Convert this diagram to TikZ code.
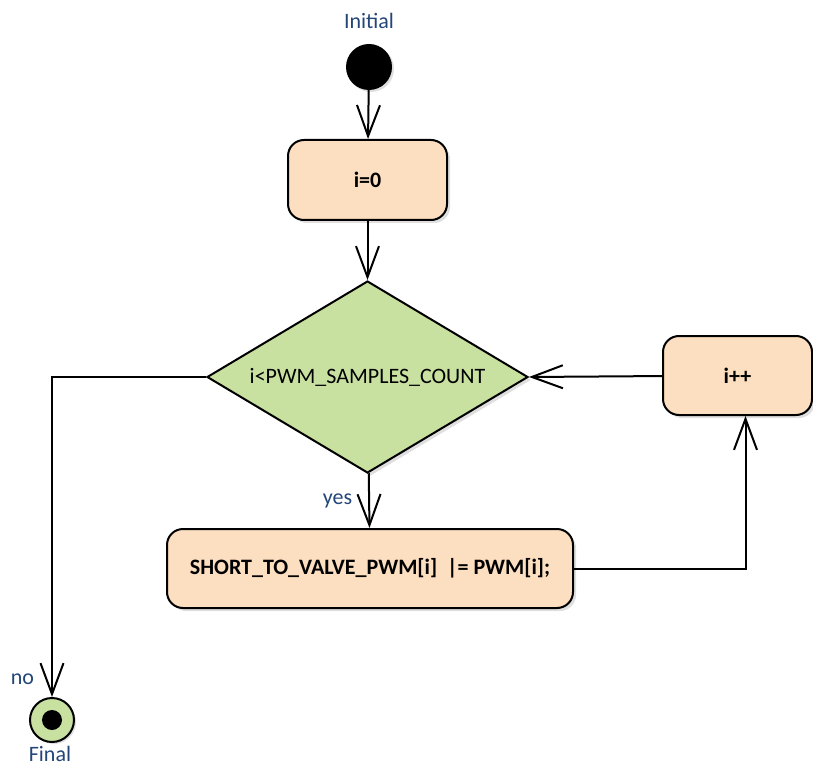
\documentclass[tikz,border=0pt]{standalone}
\usepackage{fontspec}
\setmainfont{Carlito}
\usetikzlibrary{shapes.geometric,arrows.meta,shadows}

\definecolor{actfill}{RGB}{252,222,192}
\definecolor{decfill}{RGB}{200,224,160}
\definecolor{lblblue}{RGB}{35,70,120}

\begin{document}
\begin{tikzpicture}[x=1pt,y=-1pt,
font=\fontsize{22}{26}\selectfont,
every node/.style={inner sep=2pt},
flow/.style={line width=2pt,-{Straight Barb[length=31pt,width=23pt,line width=2pt]}},
act/.style={draw,line width=2pt,fill=actfill,rounded corners=16pt,font=\fontsize{22}{26}\selectfont\bfseries,
  drop shadow={shadow xshift=3pt,shadow yshift=-3pt,opacity=.25}},
dec/.style={draw,line width=2pt,fill=decfill,diamond,aspect=1.67,minimum width=321pt,minimum height=192pt,inner sep=0pt,
  drop shadow={shadow xshift=3pt,shadow yshift=-3pt,opacity=.25}},
lbl/.style={text=lblblue}
]
\useasboundingbox (0,0) rectangle (813,767);

% nodes
\node (ini) [circle,fill=black,minimum size=46pt,inner sep=0pt,
  drop shadow={shadow xshift=2pt,shadow yshift=-2pt,opacity=.25}] at (369,67) {};
\node [lbl] at (369,21) {Initial};
\node (i0) [act,minimum width=159pt,minimum height=80pt] at (367.5,180) {i=0};
\node (cond) [dec] at (367.5,377) {i<PWM\_SAMPLES\_COUNT};
\node (inc) [act,minimum width=149pt,minimum height=79pt] at (737.5,375.5) {i++};
\node (body) [act,minimum width=406pt,minimum height=79pt] at (370,568.5) {SHORT\_TO\_VALVE\_PWM[i]\ \ |= PWM[i];};
\node (fin) [circle,draw,line width=2pt,fill=decfill,minimum size=44pt,inner sep=0pt,
  drop shadow={shadow xshift=2pt,shadow yshift=-2pt,opacity=.25}] at (52,720) {};
\fill (fin) circle (10pt);
\node [lbl] at (50,754) {Final};

% connectors
\draw[flow] (ini) -- (i0);
\draw[flow] (i0) -- (cond);
\draw[flow] (cond) -- node[midway,left,lbl,xshift=-14pt] {yes} (body);
\draw[flow] (inc) -- (cond.east);
\draw[flow] (body.east) -| ([xshift=8pt]inc.south);
\draw[flow] (cond.west) -| node[pos=.972,left,lbl,xshift=-15pt] {no} (fin);
\end{tikzpicture}
\end{document}
